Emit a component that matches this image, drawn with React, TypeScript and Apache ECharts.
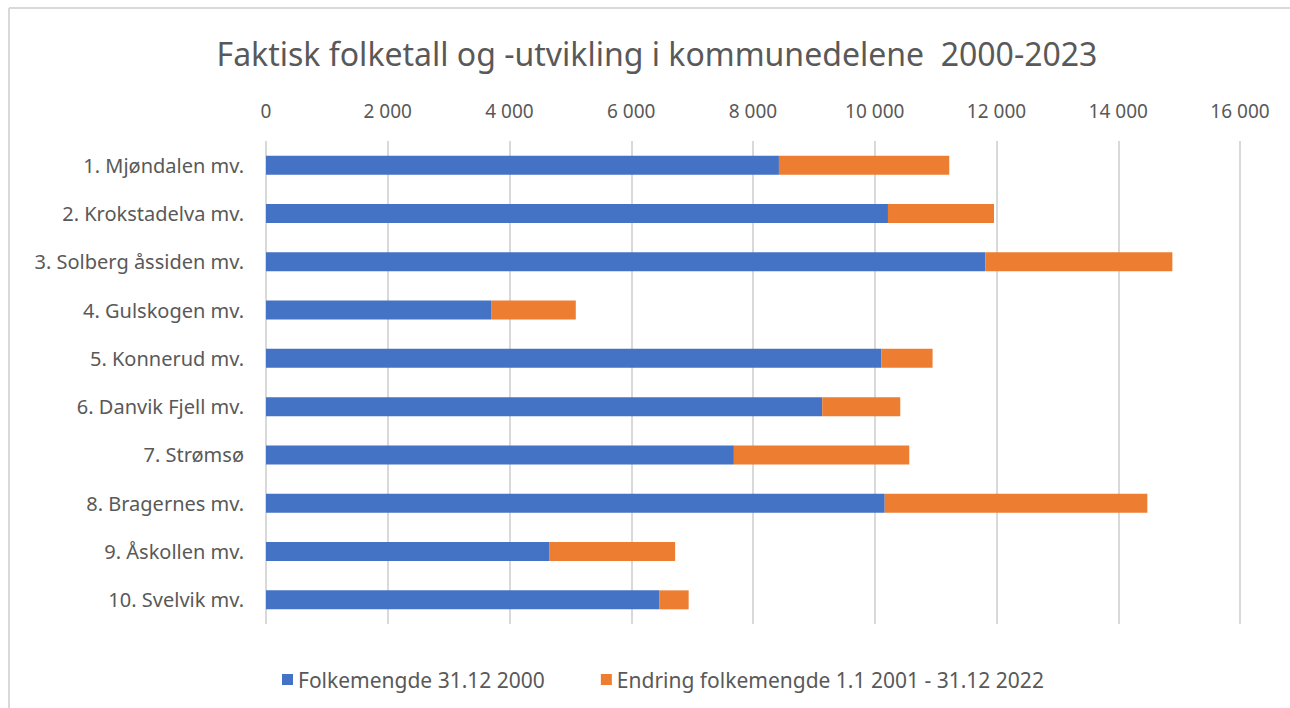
import React, { useEffect, useRef } from "react";
import * as echarts from "echarts";

const categories = [
  "1. Mjøndalen mv.",
  "2. Krokstadelva mv.",
  "3. Solberg åssiden mv.",
  "4. Gulskogen mv.",
  "5. Konnerud mv.",
  "6. Danvik Fjell mv.",
  "7. Strømsø",
  "8. Bragernes mv.",
  "9. Åskollen mv.",
  "10. Svelvik mv.",
];
const population2000 = [8426, 10217, 11816, 3698, 10107, 9137, 7686, 10164, 4651, 6465];
const change2001to2022 = [2798, 1742, 3073, 1391, 843, 1282, 2881, 4314, 2070, 478];
const seriesNames = ["Folkemengde 31.12 2000", "Endring folkemengde 1.1 2001 - 31.12 2022"];
const titleText = "Faktisk folketall og -utvikling i kommunedelene  2000-2023";

const FONT = "Noto Sans";
const TEXT = "#595959";
const GRID = "#d9d9d9";

function fmt(v: number): string {
  return String(v).replace(/\B(?=(\d{3})+(?!\d))/g, " ");
}

export default function App() {
  const ref = useRef<HTMLDivElement>(null);
  useEffect(() => {
    if (!ref.current) return;
    const chart = echarts.init(ref.current, undefined, { renderer: "svg" });
    chart.setOption({
      animation: false,
      backgroundColor: "#ffffff",
      textStyle: { fontFamily: FONT },
      title: {
        text: titleText,
        left: 652,
        top: 32,
        textAlign: "center",
        textStyle: { fontFamily: FONT, fontSize: 32, fontWeight: "normal", color: TEXT },
      },
      graphic: [
        { type: "line", shape: { x1: 9, y1: 8, x2: 1290, y2: 8 }, style: { stroke: GRID, lineWidth: 2 } },
        { type: "line", shape: { x1: 9, y1: 8, x2: 9, y2: 708 }, style: { stroke: GRID, lineWidth: 2 } },
      ],
      legend: {
        left: 277,
        top: 664,
        icon: "rect",
        itemWidth: 11,
        itemHeight: 11,
        itemGap: 56,
        textStyle: { fontFamily: FONT, fontSize: 21, color: TEXT },
        data: seriesNames,
      },
      grid: { left: 266, right: 50, top: 141, bottom: 84, containLabel: false },
      xAxis: {
        type: "value",
        position: "top",
        min: 0,
        max: 16000,
        interval: 2000,
        axisLine: { show: false },
        axisTick: { show: false },
        splitLine: { show: true, lineStyle: { color: GRID, width: 2 } },
        axisLabel: {
          formatter: (v: number) => fmt(v),
          fontFamily: FONT,
          fontSize: 19,
          color: TEXT,
          margin: 21,
        },
      },
      yAxis: {
        type: "category",
        inverse: true,
        data: categories,
        axisLine: { show: false },
        axisTick: { show: false },
        axisLabel: { fontFamily: FONT, fontSize: 20, color: TEXT, margin: 22 },
      },
      series: [
        {
          name: seriesNames[0],
          type: "bar",
          stack: "total",
          barWidth: 19,
          itemStyle: { color: "#4472C4" },
          data: population2000,
        },
        {
          name: seriesNames[1],
          type: "bar",
          stack: "total",
          barWidth: 19,
          itemStyle: { color: "#ED7D31" },
          data: change2001to2022,
        },
      ],
    });
    return () => chart.dispose();
  }, []);
  return (
    <div
      ref={ref}
      style={{ position: "fixed", left: 0, top: 0, width: 1290, height: 708 }}
    />
  );
}
